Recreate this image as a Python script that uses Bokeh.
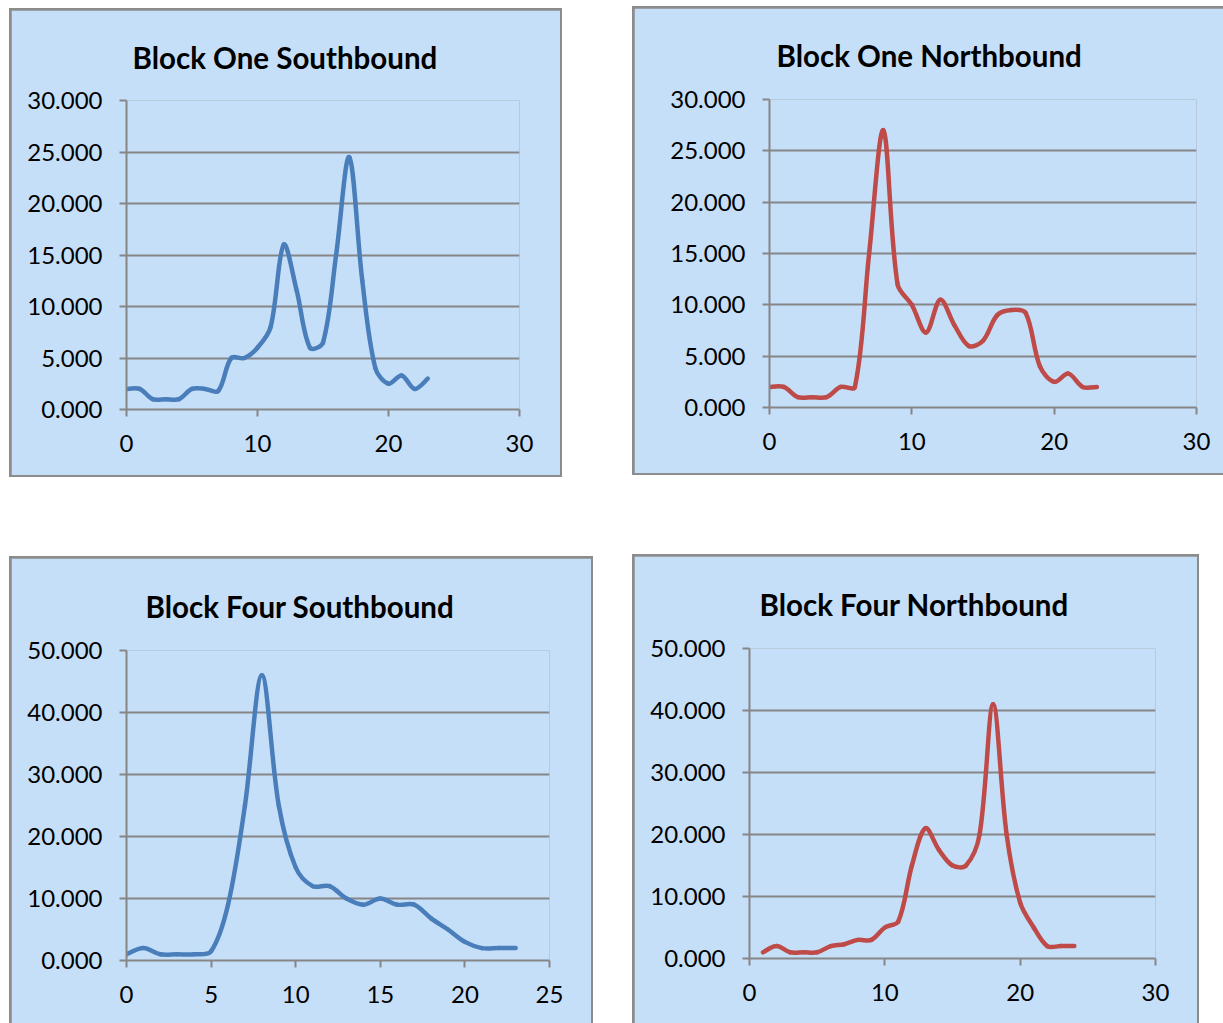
import math
from bokeh.plotting import figure
from bokeh.layouts import row, column, Spacer
from bokeh.models import FixedTicker, NumeralTickFormatter, Range1d
from bokeh.embed import file_html
from bokeh.resources import INLINE

# ---- data (hourly values) ----
hours_b1 = list(range(24))
b1_south = [2, 2, 1, 1, 1, 2, 2, 1.8, 5, 5, 6, 8, 16, 11.5, 6, 6.5, 15, 24.5, 12.5, 4, 2.5, 3.3, 2, 3]
b1_north = [2, 2, 1, 1, 1, 2, 2, 15, 27, 12, 10, 7.3, 10.5, 8, 6, 6.5, 9, 9.5, 9.2, 4, 2.5, 3.3, 2, 2]
hours_b4s = list(range(24))
b4_south = [1, 2, 1, 1, 1, 1.5, 9, 25, 46, 25, 15, 12, 12, 10, 9, 10, 9, 9, 6.8, 5, 3, 2, 2, 2]
hours_b4n = list(range(1, 25))
b4_north = [1, 2, 1, 1, 1, 2, 2.3, 3, 3, 5, 6, 15, 21, 17.5, 15, 15, 20, 41, 20, 9, 5, 2, 2, 2]

titles = ["Block One Southbound", "Block One Northbound", "Block Four Southbound", "Block Four Northbound"]

BG = "#C6DFF8"
GRAY = "#868686"
BORDER = "#8C8C8C"
BLUE = "#4A7EBB"
RED = "#BE4B48"


def smooth_segments(xs, ys, kx, ky):
    """Excel-like smoothed line drawn as cubic Bezier segments.
    Control points are derived in screen space (kx, ky = pixels per unit)."""
    n = len(xs)
    P = [(x * kx, y * ky) for x, y in zip(xs, ys)]

    def dist(a, b):
        return math.hypot(b[0] - a[0], b[1] - a[1])

    outc, inc = [], []
    for i in range(n):
        a = P[max(i - 1, 0)]
        b = P[min(i + 1, n - 1)]
        tx, ty = b[0] - a[0], b[1] - a[1]
        dp = dist(P[i - 1], P[i]) if i > 0 else 0.0
        dn = dist(P[i], P[i + 1]) if i < n - 1 else 0.0
        s = dp + dn if dp + dn > 0 else 1.0
        if i == 0 or i == n - 1:
            fo = fi = 0.5 / 3.0
        else:
            fo = dn / s / 3.0
            fi = dp / s / 3.0
        outc.append((P[i][0] + tx * fo, P[i][1] + ty * fo))
        inc.append((P[i][0] - tx * fi, P[i][1] - ty * fi))
    d = dict(x0=[], y0=[], x1=[], y1=[], cx0=[], cy0=[], cx1=[], cy1=[])
    for i in range(n - 1):
        d["x0"].append(xs[i]); d["y0"].append(ys[i])
        d["x1"].append(xs[i + 1]); d["y1"].append(ys[i + 1])
        d["cx0"].append(outc[i][0] / kx); d["cy0"].append(outc[i][1] / ky)
        d["cx1"].append(inc[i + 1][0] / kx); d["cy1"].append(inc[i + 1][1] / ky)
    return d


def make(title, xs, ys, color, xmax, xstep, ymax, ystep, w, h, mbl, mbr, mbt, mbb, toff):
    p = figure(width=w, height=h, output_backend="svg", toolbar_location=None,
               x_range=Range1d(0, xmax), y_range=Range1d(0, ymax),
               min_border_left=mbl, min_border_right=mbr,
               min_border_top=mbt, min_border_bottom=mbb)
    p.background_fill_color = BG
    p.border_fill_color = BG
    p.outline_line_color = None

    p.title.text = title
    p.title.text_font = "Lato"
    p.title.text_font_style = "bold"
    p.title.text_font_size = "29.5px"
    p.title.text_color = "black"
    p.title.align = "left"
    p.title.offset = toff
    p.title.standoff = mbt - 38

    p.xgrid.visible = False
    p.ygrid.grid_line_color = GRAY
    p.ygrid.grid_line_width = 2
    p.ygrid.ticker = FixedTicker(ticks=list(range(0, ymax + 1, ystep)))

    for ax in (p.xaxis[0], p.yaxis[0]):
        ax.axis_line_color = GRAY
        ax.axis_line_width = 2
        ax.major_tick_line_color = GRAY
        ax.major_tick_line_width = 2
        ax.major_tick_in = 0
        ax.major_tick_out = 7
        ax.minor_tick_line_color = None
        ax.major_label_text_font = "Lato"
        ax.major_label_text_font_size = "24px"
        ax.major_label_text_color = "black"

    p.xaxis.ticker = FixedTicker(ticks=list(range(0, xmax + 1, xstep)))
    p.xaxis.major_label_standoff = 18
    p.yaxis.ticker = FixedTicker(ticks=list(range(0, ymax + 1, ystep)))
    p.yaxis.formatter = NumeralTickFormatter(format="0.000")
    p.yaxis.major_label_standoff = 17

    kx = (w - mbl - mbr) / xmax
    ky = (h - mbt - mbb) / ymax
    seg = smooth_segments(xs, ys, kx, ky)
    p.bezier(x0=seg["x0"], y0=seg["y0"], x1=seg["x1"], y1=seg["y1"],
             cx0=seg["cx0"], cy0=seg["cy0"], cx1=seg["cx1"], cy1=seg["cy1"],
             line_color=color, line_width=4.5, line_cap="round")
    return p


def framed(p, margin):
    p.margin = margin
    return column(p, styles={"background-color": BORDER})


p1 = make(titles[0], hours_b1, b1_south, BLUE, 30, 10, 30, 5, 549, 465, 115, 41, 90, 66, 6)
p2 = make(titles[1], hours_b1, b1_north, RED, 30, 10, 30, 5, 589, 465, 135, 27, 91, 66, 7)
p3 = make(titles[2], hours_b4s, b4_south, BLUE, 25, 5, 50, 10, 580, 465, 115, 42, 92, 63, 19)
p4 = make(titles[3], hours_b4n, b4_north, RED, 30, 10, 50, 10, 563, 467, 115, 42, 92, 65, 10)

row1 = row(Spacer(width=9, height=10),
           column(Spacer(width=10, height=8), framed(p1, (2, 2, 2, 2))),
           Spacer(width=70, height=10),
           column(Spacer(width=10, height=6), framed(p2, (2, 0, 2, 2))))
row2 = row(Spacer(width=9, height=10),
           column(Spacer(width=10, height=79), framed(p3, (2, 2, 0, 2))),
           Spacer(width=39, height=10),
           column(Spacer(width=10, height=77), framed(p4, (2, 2, 0, 2))))
layout = column(row1, row2)

open("out.html", "w").write(file_html(layout, INLINE))
